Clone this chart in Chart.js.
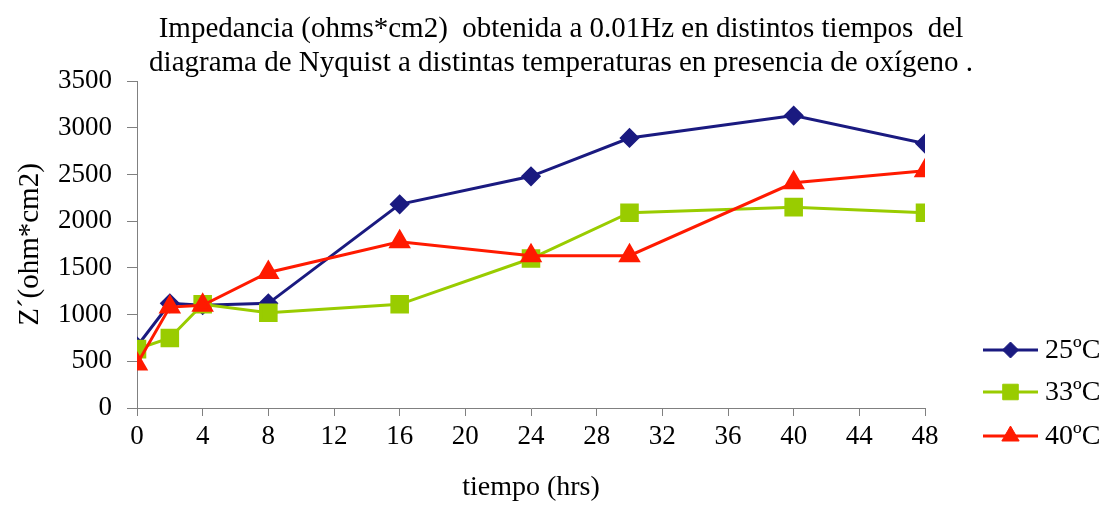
<!DOCTYPE html>
<html>
<head>
<meta charset="utf-8">
<script src="https://cdn.jsdelivr.net/npm/chart.js@4/dist/chart.umd.min.js"></script>
<style>
  html, body { margin: 0; padding: 0; background: #fff; }
  #wrap { width: 1106px; height: 521px; position: relative; }
</style>
</head>
<body>
<div id="wrap"><canvas id="c" width="1106" height="521"></canvas></div>
<script>
// Sampling times (hrs)
const tiempos = [0, 2, 4, 8, 16, 24, 30, 40, 48];
// Impedance Z' (ohm*cm2) per temperature
const z25 = [660, 1120, 1100, 1120, 2180, 2480, 2890, 3130, 2830];
const z33 = [630, 750, 1110, 1020, 1110, 1600, 2090, 2150, 2090];
const z40 = [470, 1080, 1100, 1450, 1780, 1630, 1630, 2410, 2540];
const seriesLabels = ['25ºC', '33ºC', '40ºC'];
const titleLines = ['Impedancia (ohms*cm2)  obtenida a 0.01Hz en distintos tiempos  del',
                    'diagrama de Nyquist a distintas temperaturas en presencia de oxígeno .'];

const FONT = '"Liberation Serif", "Times New Roman", serif';
const toPts = (ys) => ys.map((y, i) => ({ x: tiempos[i], y }));

// Two-line heading centred above the plot
const heading = {
  id: 'heading',
  afterDraw(chart) {
    const ctx = chart.ctx;
    ctx.save();
    ctx.fillStyle = '#000';
    ctx.font = '29px ' + FONT;
    ctx.textAlign = 'center';
    ctx.textBaseline = 'alphabetic';
    ctx.fillText(titleLines[0], 561, 37);
    ctx.fillText(titleLines[1], 561, 71);
    ctx.restore();
  }
};

// Legend on the right: short line with the series marker, then the label
const sideLegend = {
  id: 'sideLegend',
  afterDraw(chart) {
    const ctx = chart.ctx;
    const x0 = 983, x1 = 1038, tx = 1045;
    const ys = [350, 392, 436];
    chart.data.datasets.forEach((ds, i) => {
      const y = ys[i];
      ctx.save();
      ctx.strokeStyle = ds.borderColor;
      ctx.lineWidth = ds.borderWidth;
      ctx.beginPath();
      ctx.moveTo(x0, y);
      ctx.lineTo(x1, y);
      ctx.stroke();
      ctx.fillStyle = ds.pointBackgroundColor;
      ctx.strokeStyle = ds.pointBorderColor;
      ctx.lineWidth = 1;
      Chart.helpers.drawPoint(ctx, { pointStyle: ds.pointStyle, radius: ds.pointRadius, borderWidth: 1, rotation: 0 }, (x0 + x1) / 2, y);
      ctx.fillStyle = '#000';
      ctx.font = '28px ' + FONT;
      ctx.textBaseline = 'middle';
      ctx.textAlign = 'left';
      ctx.fillText(ds.label, tx, y + 1);
      ctx.restore();
    });
  }
};

new Chart(document.getElementById('c'), {
  type: 'line',
  data: {
    datasets: [
      { label: seriesLabels[0], data: toPts(z25), order: 3, borderColor: '#1a1a80', backgroundColor: '#1a1a80',
        pointBackgroundColor: '#1a1a80', pointBorderColor: '#1a1a80', pointStyle: 'rectRot', pointRadius: 8, borderWidth: 3 },
      { label: seriesLabels[1], data: toPts(z33), order: 2, borderColor: '#99cc00', backgroundColor: '#99cc00',
        pointBackgroundColor: '#99cc00', pointBorderColor: '#99cc00', pointStyle: 'rect', pointRadius: 11, borderWidth: 3 },
      { label: seriesLabels[2], data: toPts(z40), order: 1, borderColor: '#ff1a00', backgroundColor: '#ff1a00',
        pointBackgroundColor: '#ff1a00', pointBorderColor: '#ff1a00', pointStyle: 'triangle', pointRadius: 10, borderWidth: 3 }
    ]
  },
  options: {
    responsive: false,
    animation: false,
    layout: { padding: { left: 0, right: 181, top: 81, bottom: 17 } },
    plugins: {
      legend: { display: false },
      tooltip: { enabled: false },
      title: { display: false }
    },
    scales: {
      x: {
        type: 'linear',
        min: 0, max: 48,
        ticks: { stepSize: 4, color: '#000', font: { family: FONT, size: 27 }, padding: 5, maxRotation: 0,
                 callback: (v) => String(v) },
        grid: { drawOnChartArea: false, drawTicks: true, tickLength: 8, color: '#808080' },
        border: { color: '#808080', width: 1 },
        title: { display: true, text: 'tiempo (hrs)', color: '#000', font: { family: FONT, size: 28 }, padding: { top: 12, bottom: 0 } }
      },
      y: {
        min: 0, max: 3500,
        ticks: { stepSize: 500, color: '#000', font: { family: FONT, size: 27 }, padding: 15,
                 callback: (v) => String(v) },
        grid: { drawOnChartArea: false, drawTicks: true, tickLength: 10, color: '#808080' },
        border: { color: '#808080', width: 1 },
        title: { display: true, text: 'Z´(ohm*cm2)', color: '#000', font: { family: FONT, size: 29 }, padding: { top: 13, bottom: 0 } },
        afterFit(scale) { scale.width = 137; }
      }
    }
  },
  plugins: [heading, sideLegend]
});
</script>
</body>
</html>
